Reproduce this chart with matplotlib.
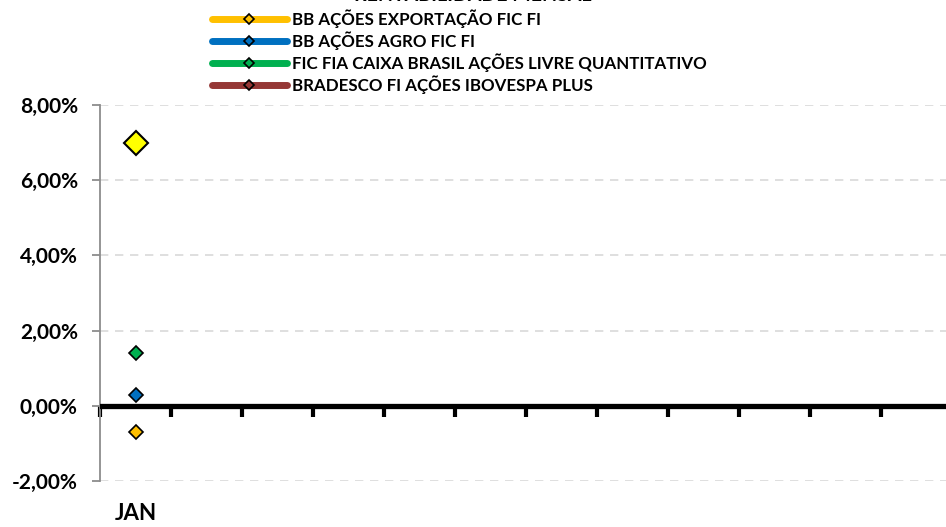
import numpy as np
import matplotlib
matplotlib.use("Agg")
import matplotlib.pyplot as plt
from matplotlib.lines import Line2D
from matplotlib.ticker import FuncFormatter

plt.rcParams['font.family'] = ['Lato', 'DejaVu Sans']
plt.rcParams['font.weight'] = 'bold'

MONTHS = ["JAN", "FEV", "MAR", "ABR", "MAI", "JUN",
          "JUL", "AGO", "SET", "OUT", "NOV", "DEZ"]
MONTH_LABELS = ["JAN", "", "", "", "", "", "", "", "", "", "", ""]
NAN = np.nan

# monthly returns in %, only January filled in
exportacao = [-0.69] + [NAN] * 11
agro = [0.29] + [NAN] * 11
caixa = [1.41] + [NAN] * 11
bradesco = [NAN] * 12
destaque = [7.00] + [NAN] * 11   # big yellow point, not in legend

SERIES = [
    ("BB AÇÕES EXPORTAÇÃO FIC FI", exportacao, "#FFC000"),
    ("BB AÇÕES AGRO FIC FI", agro, "#0070C0"),
    ("FIC FIA CAIXA BRASIL AÇÕES LIVRE QUANTITATIVO", caixa, "#00B050"),
    ("BRADESCO FI AÇÕES IBOVESPA PLUS", bradesco, "#953735"),
]

fig = plt.figure(figsize=(9.46, 5.27), dpi=100)
ax = fig.add_axes([100 / 946, 46 / 527, 852 / 946, 376 / 527])

x = np.arange(len(MONTHS)) + 0.5

handles = []
for name, vals, col in SERIES:
    ax.plot(x, vals, color=col, lw=2.5, marker="D", ms=7.5,
            markerfacecolor=col, markeredgecolor="black", mew=1.2, zorder=4)
    handles.append(Line2D([], [], color=col, lw=5, solid_capstyle="round",
                          marker="D", ms=5.5, markerfacecolor=col,
                          markeredgecolor="black", mew=1.2, label=name))

ax.plot(x, destaque, color="#FFFF00", lw=2.5, marker="D", ms=12,
        markerfacecolor="#FFFF00", markeredgecolor="black", mew=1.5, zorder=5)

ax.set_xlim(0, 12)
ax.set_ylim(-2, 8)
ax.set_yticks(np.arange(-2, 8.1, 2))
ax.yaxis.set_major_formatter(FuncFormatter(lambda v, p: f"{v:.2f}%".replace(".", ",")))
ax.grid(axis="y", color="#D9D9D9", ls=(0, (5, 4)), lw=1.2)
ax.set_axisbelow(True)

for s in ["top", "right", "bottom"]:
    ax.spines[s].set_visible(False)
ax.spines["left"].set_color("#8C8C8C")
ax.spines["left"].set_linewidth(1.3)
ax.tick_params(axis="y", colors="#8C8C8C", length=6, width=1.3, pad=10,
               labelcolor="black", labelsize=15)

ax.set_xticks(x)
ax.set_xticklabels(MONTH_LABELS, fontsize=16)
ax.tick_params(axis="x", length=0, pad=16)

# zero line with month boundary ticks
ax.axhline(0, color="black", lw=3.8, zorder=3)
zero = ax.secondary_xaxis(0.2)
zero.spines["bottom"].set_visible(False)
zero.set_xticks(np.arange(0, 13))
zero.set_xticklabels([])
zero.tick_params(axis="x", length=8, width=3, color="black", direction="out")

leg = fig.legend(handles=handles, loc="upper left", bbox_to_anchor=(212 / 946, 1 - 9 / 527),
                 frameon=False, fontsize=12.2, handlelength=4.4, handletextpad=0.3,
                 labelspacing=0.2, borderpad=0, borderaxespad=0)

fig.text(0.5, 1 - 1 / 527, "RENTABILIDADE MENSAL", ha="center", va="baseline",
         fontsize=14, fontweight="bold")

fig.savefig("out.png", dpi=100)
